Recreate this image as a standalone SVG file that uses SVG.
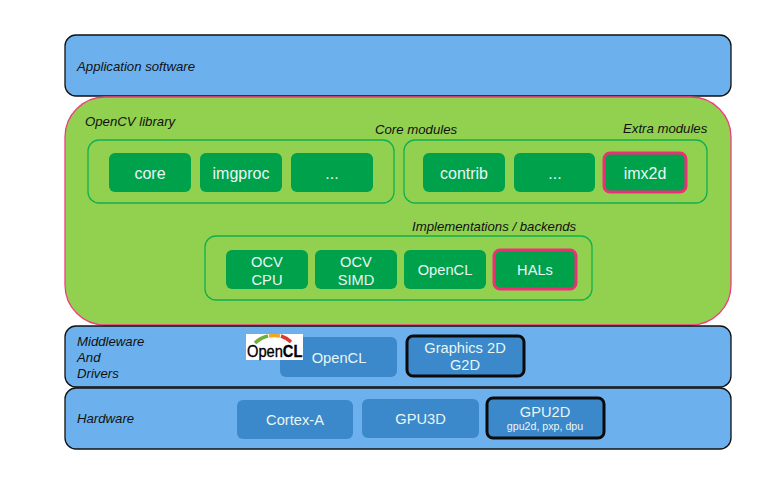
<svg xmlns="http://www.w3.org/2000/svg" width="768" height="480" viewBox="0 0 768 480">
<style>
text{font-family:"Liberation Sans",Arial,sans-serif}
.lay{fill:#6cb1ee;stroke:#111;stroke-width:1.3}
.cap{font-size:13.2px;font-style:italic;fill:#111}
.grp{fill:none;stroke:#11b04f;stroke-width:1.3}
.g{fill:#00a14b}
.p{stroke:#ef2e78;stroke-width:3}
.b{fill:#3b88cb}
.k{stroke:#0a0a0a;stroke-width:3}
.t{font-size:14.67px;fill:#e8f6f4;text-anchor:middle}
.l{font-size:16px}
.arc{fill:none;stroke-width:3.5}
</style>
<g id="application"><rect class="lay" x="65" y="35" width="666" height="61" rx="11"/><text class="cap" x="77" y="71">Application software</text></g>
<g id="opencv-library"><rect x="65" y="97" width="666" height="228" rx="40" fill="#92d050" stroke="#ef3e80" stroke-width="1.3"/><text class="cap" x="85" y="126">OpenCV library</text><text class="cap" x="375" y="134">Core modules</text><text class="cap" x="623" y="133">Extra modules</text><text class="cap" x="412" y="231">Implementations / backends</text></g>
<g id="core-group"><rect class="grp" x="88" y="140" width="306" height="63" rx="11"/></g>
<g id="extra-group"><rect class="grp" x="404" y="140" width="303" height="63" rx="11"/></g>
<g id="backend-group"><rect class="grp" x="205" y="236" width="387" height="64" rx="11"/></g>
<g id="core"><rect class="g" x="109" y="153" width="82" height="39" rx="6"/><text class="t l" x="150" y="179">core</text></g>
<g id="imgproc"><rect class="g" x="200" y="153" width="82" height="39" rx="6"/><text class="t l" x="241" y="179">imgproc</text></g>
<g id="core-more"><rect class="g" x="291" y="153" width="82" height="39" rx="6"/><text class="t l" x="332" y="179">...</text></g>
<g id="contrib"><rect class="g" x="423" y="153" width="82" height="39" rx="6"/><text class="t l" x="464" y="179">contrib</text></g>
<g id="extra-more"><rect class="g" x="514" y="153" width="81" height="39" rx="6"/><text class="t l" x="555" y="179">...</text></g>
<g id="imx2d"><rect class="g p" x="604" y="153" width="82" height="39" rx="6"/><text class="t l" x="645" y="179">imx2d</text></g>
<g id="ocv-cpu"><rect class="g" x="226" y="250" width="82" height="39" rx="6"/><text class="t" x="267" y="267">OCV</text><text class="t" x="267" y="285">CPU</text></g>
<g id="ocv-simd"><rect class="g" x="315" y="250" width="82" height="39" rx="6"/><text class="t" x="356" y="267">OCV</text><text class="t" x="356" y="285">SIMD</text></g>
<g id="opencl-impl"><rect class="g" x="404" y="250" width="82" height="39" rx="6"/><text class="t" x="445" y="275">OpenCL</text></g>
<g id="hals"><rect class="g p" x="494" y="250" width="82" height="39" rx="6"/><text class="t" x="535" y="275">HALs</text></g>
<g id="middleware"><rect class="lay" x="65" y="326" width="666" height="61" rx="11"/><text class="cap" x="77" y="346">Middleware</text><text class="cap" x="77" y="362">And</text><text class="cap" x="77" y="378">Drivers</text></g>
<g id="hardware"><rect class="lay" x="65" y="388" width="666" height="61" rx="11"/><text class="cap" x="77" y="423">Hardware</text></g>
<g id="opencl"><rect class="b" x="280" y="337" width="117" height="40" rx="6"/><text class="t" x="339" y="363">OpenCL</text></g>
<g id="opencl-logo"><rect x="246" y="334" width="57" height="26" fill="#fff"/><path class="arc" d="M255 343Q260 338 268 336" stroke="#6fae3a"/><path class="arc" d="M269 336Q274 335 280 336" stroke="#f2a81d"/><path class="arc" d="M281 336Q287 338 291 342" stroke="#dc3a2e"/><text transform="translate(247 357) scale(1 1.1)" font-size="14.67" fill="#000" stroke="#000" stroke-width=".3">Open<tspan font-weight="700">CL</tspan></text></g>
<g id="graphics-2d"><rect class="b k" x="407" y="336" width="117" height="40" rx="6"/><text class="t" x="465" y="353">Graphics 2D</text><text class="t" x="465" y="370">G2D</text></g>
<g id="cortex-a"><rect class="b" x="237" y="400" width="116" height="39" rx="6"/><text class="t" x="295" y="425">Cortex-A</text></g>
<g id="gpu3d"><rect class="b" x="362" y="399" width="117" height="39" rx="6"/><text class="t" x="420.500" y="424">GPU3D</text></g>
<g id="gpu2d"><rect class="b k" x="487" y="398" width="117" height="40" rx="6"/><text class="t" x="545" y="417">GPU2D</text><text class="t" x="545" y="430" style="font-size:10.67px">gpu2d, pxp, dpu</text></g>
<g id="connectors"/>
</svg>
